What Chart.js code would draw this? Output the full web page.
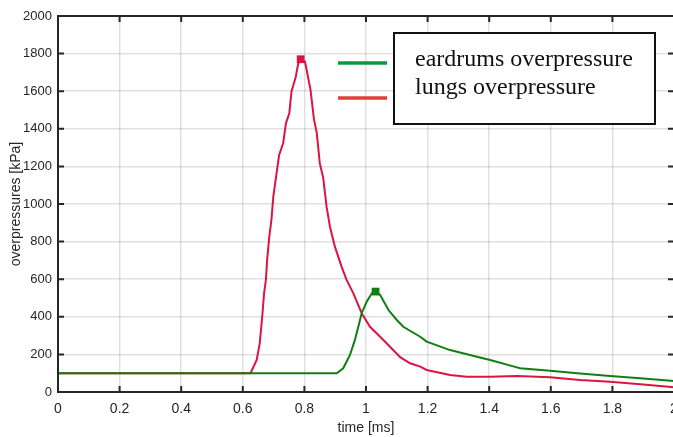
<!DOCTYPE html>
<html>
<head>
<meta charset="utf-8">
<script src="https://cdn.jsdelivr.net/npm/chart.js@4.4.1/dist/chart.umd.min.js"></script>
<style>
  html, body { margin: 0; padding: 0; background: #fff; overflow: hidden; }
  #wrap { width: 680px; height: 437px; }
</style>
</head>
<body>
<div id="wrap"><canvas id="myChart" width="680" height="437"></canvas></div>
<script>
// time axis ticks
var timeTicks = [0, 0.2, 0.4, 0.6, 0.8, 1, 1.2, 1.4, 1.6, 1.8, 2];

// eardrums overpressure (green), time in ms / kPa
var eardrumTime = [0, 0.905, 0.926, 0.948, 0.964, 0.975, 0.986, 1.002, 1.019, 1.031, 1.046, 1.073, 1.1, 1.121,
  1.176, 1.197, 1.273, 1.36, 1.403, 1.49, 1.5, 1.598, 1.695, 1.793, 1.9, 2.0];
var eardrumValues = [100, 100, 126, 197, 277, 347, 419, 480, 525, 534, 516, 436, 383, 347,
  294, 268, 223, 188, 170, 131, 126, 113, 99, 85, 72, 59];

// lungs overpressure (red)
var lungTime = [0, 0.6, 0.625, 0.645, 0.655, 0.664, 0.669, 0.675, 0.679, 0.686, 0.693, 0.699, 0.718, 0.731,
  0.74, 0.751, 0.758, 0.772, 0.78, 0.788, 0.802, 0.82, 0.831, 0.84, 0.85, 0.861, 0.872, 0.883, 0.899,
  0.921, 0.937, 0.959, 0.986, 1.013, 1.046, 1.078, 1.111, 1.143, 1.176, 1.197, 1.273, 1.327, 1.403,
  1.49, 1.598, 1.695, 1.793, 1.9, 2.0];
var lungValues = [100, 100, 100, 170, 259, 419, 525, 596, 702, 826, 915, 1039, 1261, 1323,
  1429, 1482, 1597, 1677, 1748, 1770, 1757, 1606, 1450, 1380, 1216, 1140, 986, 879, 773,
  666, 596, 525, 419, 347, 294, 241, 185, 153, 135, 117, 90, 81, 81,
  85, 78, 64, 55, 40, 25];

var seriesLabels = ['eardrums overpressure', 'lungs overpressure'];

function toPoints(xs, ys) {
  return xs.map(function (x, i) { return { x: x, y: ys[i] }; });
}

function peakIndex(ys) {
  var best = 0;
  ys.forEach(function (v, i) { if (v > ys[best]) best = i; });
  return best;
}

var eardrumPeak = peakIndex(eardrumValues);
var lungPeak = peakIndex(lungValues);

// box frame with inward ticks, and the odd legend with samples outside the box
var framePlugin = {
  id: 'frame',
  afterDatasetsDraw: function (chart) {
    var ctx = chart.ctx;
    var a = chart.chartArea;
    var xs = chart.scales.x, ys = chart.scales.y;
    ctx.save();
    ctx.strokeStyle = '#262626';
    ctx.lineWidth = 2;
    ctx.strokeRect(a.left, a.top, a.right - a.left, a.bottom - a.top);
    ctx.beginPath();
    xs.ticks.forEach(function (t) {
      var px = xs.getPixelForValue(t.value);
      ctx.moveTo(px, a.bottom); ctx.lineTo(px, a.bottom - 6);
      ctx.moveTo(px, a.top); ctx.lineTo(px, a.top + 6);
    });
    ys.ticks.forEach(function (t) {
      var py = ys.getPixelForValue(t.value);
      ctx.moveTo(a.left, py); ctx.lineTo(a.left + 6, py);
      ctx.moveTo(a.right, py); ctx.lineTo(a.right - 6, py);
    });
    ctx.stroke();
    ctx.restore();
  },
  afterDraw: function (chart) {
    var ctx = chart.ctx;
    ctx.save();
    // legend samples
    ctx.lineWidth = 3.5;
    ctx.strokeStyle = '#0a9a3e';
    ctx.beginPath(); ctx.moveTo(338, 63); ctx.lineTo(387, 63); ctx.stroke();
    ctx.strokeStyle = '#e0403c';
    ctx.beginPath(); ctx.moveTo(338, 98); ctx.lineTo(387, 98); ctx.stroke();
    // legend box
    ctx.fillStyle = '#fff';
    ctx.fillRect(394, 33, 261, 91);
    ctx.strokeStyle = '#111';
    ctx.lineWidth = 2;
    ctx.strokeRect(394, 33, 261, 91);
    ctx.fillStyle = '#111';
    ctx.font = '24px "Liberation Serif", "DejaVu Serif", serif';
    ctx.textBaseline = 'alphabetic';
    ctx.fillText(seriesLabels[0], 415, 66);
    ctx.fillText(seriesLabels[1], 415, 94);
    ctx.restore();
  }
};

var tickFont = { family: '"Liberation Sans", Arial, sans-serif', size: 14 };
var yTickFont = { family: '"Liberation Sans", Arial, sans-serif', size: 13 };

var ctx = document.getElementById('myChart').getContext('2d');
var myChart = new Chart(ctx, {
  type: 'line',
  data: {
    datasets: [{
      label: seriesLabels[0],
      data: toPoints(eardrumTime, eardrumValues),
      borderColor: '#0f7f12',
      backgroundColor: '#0f7f12',
      borderWidth: 2,
      tension: 0,
      pointStyle: 'rect',
      pointRadius: function (c) { return c.dataIndex === eardrumPeak ? 5.5 : 0; },
      pointBorderWidth: 0
    }, {
      label: seriesLabels[1],
      data: toPoints(lungTime, lungValues),
      borderColor: '#dc1441',
      backgroundColor: '#dc1441',
      borderWidth: 2,
      tension: 0,
      pointStyle: 'rect',
      pointRadius: function (c) { return c.dataIndex === lungPeak ? 5.5 : 0; },
      pointBorderWidth: 0
    }]
  },
  options: {
    responsive: false,
    animation: false,
    layout: { padding: { top: 16, right: 6, left: 0, bottom: 0 } },
    plugins: {
      legend: { display: false },
      tooltip: { enabled: false }
    },
    scales: {
      x: {
        type: 'linear',
        min: 0,
        max: 2,
        afterFit: function (s) { s.height = 45; s.paddingLeft = 0; s.paddingRight = 0; },
        afterBuildTicks: function (s) { s.ticks = timeTicks.map(function (v) { return { value: v }; }); },
        grid: { color: 'rgba(0,0,0,0.12)', lineWidth: 1.5, drawTicks: false },
        border: { display: false },
        ticks: {
          color: '#262626',
          font: tickFont,
          padding: 9,
          maxRotation: 0,
          callback: function (v) { return String(Number(v.toFixed(1))); }
        },
        title: { display: true, text: 'time [ms]', color: '#262626', font: tickFont, padding: { top: 0, bottom: 0 } }
      },
      y: {
        min: 0,
        max: 2000,
        afterFit: function (s) { s.width = 58; s.paddingTop = 0; s.paddingBottom = 0; },
        grid: { color: 'rgba(0,0,0,0.12)', lineWidth: 1.5, drawTicks: false },
        border: { display: false },
        ticks: {
          stepSize: 200, color: '#262626', font: yTickFont, padding: 6,
          callback: function (v) { return String(v); }
        },
        title: { display: true, text: 'overpressures [kPa]', color: '#262626', font: tickFont, padding: { top: 8, bottom: 0 } }
      }
    }
  },
  plugins: [framePlugin]
});
</script>
</body>
</html>
